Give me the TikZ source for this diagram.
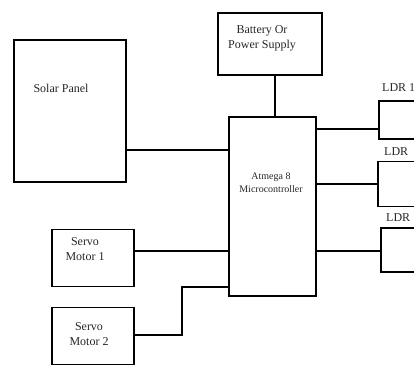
\documentclass[tikz,border=0pt]{standalone}
\usepackage{fontspec}
\setmainfont{Liberation Serif}
\usetikzlibrary{positioning, calc}

\begin{document}
\begin{tikzpicture}[
            x=1pt, y=-1pt,
            blk/.style={rectangle, draw, line width=1.4pt, inner sep=0pt},
            txt/.style={align=center, font=\fontsize{12}{15}\selectfont, text=black!85, inner sep=0pt},
            small/.style={txt, font=\fontsize{10}{13}\selectfont},
            wire/.style={line width=1.4pt}
        ]
            \useasboundingbox (0,0) rectangle (414,365);

            % --- boxes ---
            \node[blk, minimum width=112, minimum height=142] (solar) at (70,111) {};
            \node[blk, minimum width=104, minimum height=62] (batt) at (270,44) {};
            \node[blk, minimum width=87, minimum height=179] (mcu) at (272.5,206.5) {};
            \node[blk, minimum width=82, minimum height=57] (servo1) at (93,258) {};
            \node[blk, minimum width=82, minimum height=57] (servo2) at (93,336) {};
            \node[blk, minimum width=50, minimum height=38] (ldr1) at (404,120) {};
            \node[blk, minimum width=50, minimum height=45] (ldr2) at (403,184) {};
            \node[blk, minimum width=50, minimum height=44] (ldr3) at (406,250) {};

            % --- texts ---
            \node[txt] (solartxt) at (61,88) {Solar Panel};
            \node[txt] (batttxt) at (262,38) {Battery Or\\Power Supply};
            \node[small] (mcutxt) at (271,183) {Atmega 8\\Microcontroller};
            \node[txt] (servo1txt) at (85,249) {Servo\\Motor 1};
            \node[txt] (servo2txt) at (89,334) {Servo\\Motor 2};
            \node[txt, anchor=west] (ldr1txt) at (382,88) {LDR 1};
            \node[txt, anchor=west] (ldr2txt) at (384,152) {LDR};
            \node[txt, anchor=west] (ldr3txt) at (386,218) {LDR};

            % --- wires ---
            \draw[wire] ([yshift=-39pt]solar.east) -- ([yshift=-39pt]solar.east -| mcu.west);
            \draw[wire] ([xshift=5pt]batt.south) -- ([xshift=5pt]batt.south |- mcu.north);
            \draw[wire] ([yshift=-9pt]ldr1.west) -- ([yshift=-9pt]ldr1.west -| mcu.east);
            \draw[wire] (ldr2.west) -- (ldr2.west -| mcu.east);
            \draw[wire] ([yshift=-1pt]ldr3.west) -- ([yshift=-1pt]ldr3.west -| mcu.east);
            \draw[wire] ([yshift=7pt]servo1.east) -- ([yshift=7pt]servo1.east -| mcu.west);
            \coordinate (bend) at (182,287);
            \draw[wire] ([yshift=1pt]servo2.east) -| (bend) -- (bend -| mcu.west);

        \end{tikzpicture}
\end{document}
